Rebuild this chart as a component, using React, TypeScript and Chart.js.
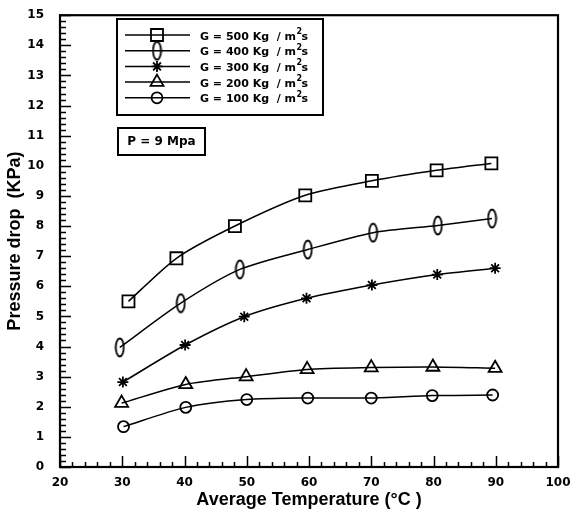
import { useEffect, useRef } from "react";
import { Chart, registerables, type ChartConfiguration, type Plugin } from "chart.js";
import { drawPoint } from "chart.js/helpers";

Chart.register(...registerables);

// Valores (temperatura media en °C, caída de presión en kPa)
const seriesLabels = ["500", "400", "300", "200", "100"];
const temps500 = [31, 38.7, 48.1, 59.4, 70.1, 80.5, 89.3];
const drop500 = [5.5, 6.93, 8.0, 9.02, 9.5, 9.85, 10.08];
const temps400 = [29.6, 39.4, 48.9, 59.8, 70.3, 80.7, 89.4];
const drop400 = [3.97, 5.44, 6.56, 7.22, 7.78, 8.02, 8.25];
const temps300 = [30.1, 40.1, 49.6, 59.6, 70.1, 80.6, 89.9];
const drop300 = [2.82, 4.05, 4.99, 5.6, 6.04, 6.39, 6.6];
const temps200 = [29.9, 40.2, 49.9, 59.7, 70.0, 79.9, 89.9];
const drop200 = [2.12, 2.74, 3.0, 3.24, 3.3, 3.32, 3.28];
const temps100 = [30.2, 40.2, 50.0, 59.8, 70.0, 79.8, 89.5];
const drop100 = [1.34, 1.98, 2.24, 2.29, 2.29, 2.37, 2.39];

const xTicks = [20, 30, 40, 50, 60, 70, 80, 90, 100];
const yTicks = [0, 1, 2, 3, 4, 5, 6, 7, 8, 9, 10, 11, 12, 13, 14, 15];

const FONT = "'Liberation Sans', Arial, sans-serif";
const WIDE = "'DejaVu Sans', sans-serif";

function makeEllipse(): HTMLCanvasElement {
  const c = document.createElement("canvas");
  c.width = 11;
  c.height = 21;
  const g = c.getContext("2d")!;
  g.strokeStyle = "#000";
  g.lineWidth = 1.8;
  g.beginPath();
  g.ellipse(5.5, 10.5, 4, 9, 0, 0, Math.PI * 2);
  g.stroke();
  return c;
}

export default function App() {
  const canvasRef = useRef<HTMLCanvasElement>(null);
  const chartRef = useRef<Chart | null>(null);

  useEffect(() => {
    document.body.style.margin = "0";
    if (!canvasRef.current) return;
    const ellipse = makeEllipse();

    const styles: any[] = [
      { pointStyle: "rect", radius: 8.5 },
      { pointStyle: ellipse, radius: 9 },
      { pointStyle: "star", radius: 5.5 },
      { pointStyle: "triangle", radius: 7.5 },
      { pointStyle: "circle", radius: 5.5 },
    ];
    const xs = [temps500, temps400, temps300, temps200, temps100];
    const ys = [drop500, drop400, drop300, drop200, drop100];

    // marco, ticks hacia adentro, leyenda y caja de presión
    const decor: Plugin<"line"> = {
      id: "decor",
      afterDraw(chart) {
        const { ctx, chartArea: a } = chart;
        const sx = chart.scales.x;
        const sy = chart.scales.y;
        ctx.save();
        ctx.strokeStyle = "#000";
        ctx.lineWidth = 1.5;
        ctx.beginPath();
        for (let v = 20; v <= 100.001; v += 2) {
          const px = Math.round(sx.getPixelForValue(v)) + 0.5;
          const len = Math.abs(v % 10) < 0.01 ? 11 : 5;
          ctx.moveTo(px, a.bottom);
          ctx.lineTo(px, a.bottom - len);
        }
        for (let v = 0; v <= 15.001; v += 0.2) {
          const py = Math.round(sy.getPixelForValue(v)) + 0.5;
          const major = Math.abs(v - Math.round(v)) < 0.01;
          ctx.moveTo(a.left, py);
          ctx.lineTo(a.left + (major ? 11 : 6), py);
        }
        ctx.stroke();
        ctx.lineWidth = 2.2;
        ctx.strokeRect(a.left, a.top, a.right - a.left, a.bottom - a.top);

        // leyenda
        const bx = 117, by = 19, bw = 206, bh = 96;
        ctx.fillStyle = "#fff";
        ctx.fillRect(bx, by, bw, bh);
        ctx.lineWidth = 2;
        ctx.strokeRect(bx, by, bw, bh);
        seriesLabels.forEach((g, i) => {
          const ry = 35 + i * 15.7;
          ctx.lineWidth = 1.5;
          ctx.beginPath();
          ctx.moveTo(125, ry);
          ctx.lineTo(190, ry);
          ctx.stroke();
          ctx.fillStyle = "rgba(0,0,0,0)";
          ctx.lineWidth = 1.8;
          drawPoint(ctx, { ...styles[i], rotation: 0, borderWidth: 1.8 }, 157, ry);
          ctx.fillStyle = "#000";
          ctx.font = `bold 11px ${WIDE}`;
          ctx.textBaseline = "alphabetic";
          ctx.textAlign = "left";
          const main = `G = ${g} Kg  / m`;
          ctx.fillText(main, 200, ry + 4.5);
          const w = ctx.measureText(main).width;
          ctx.font = `bold 8px ${WIDE}`;
          ctx.fillText("2", 200 + w + 0.5, ry - 1);
          ctx.font = `bold 11px ${WIDE}`;
          ctx.fillText("s", 200 + w + 5.5, ry + 4.5);
        });

        // caja P
        ctx.lineWidth = 2;
        ctx.strokeRect(118, 128, 87, 27);
        ctx.fillStyle = "#000";
        ctx.font = `bold 12px ${WIDE}`;
        ctx.textAlign = "center";
        ctx.textBaseline = "middle";
        ctx.fillText("P = 9 Mpa", 161.5, 142);
        ctx.restore();
      },
    };

    const cfg: ChartConfiguration<"line"> = {
      type: "line",
      data: {
        datasets: seriesLabels.map((g, i) => ({
          label: `G = ${g} Kg / m²s`,
          data: xs[i].map((x, j) => ({ x, y: ys[i][j] })),
          borderColor: "#000",
          borderWidth: 1.5,
          tension: 0.25,
          pointStyle: styles[i].pointStyle,
          pointRadius: styles[i].radius,
          pointBorderWidth: 1.8,
          pointBorderColor: "#000",
          pointBackgroundColor: "rgba(0,0,0,0)",
          fill: false,
        })),
      },
      options: {
        animation: false,
        responsive: true,
        maintainAspectRatio: false,
        layout: { padding: { top: 12, right: 18, left: 0, bottom: 0 } },
        scales: {
          x: {
            type: "linear",
            min: 20,
            max: 100,
            afterBuildTicks: (s) => {
              s.ticks = xTicks.map((v) => ({ value: v }));
            },
            afterFit: (s) => {
              s.height = 49;
            },
            ticks: {
              color: "#000",
              padding: 1,
              maxRotation: 0,
              autoSkip: false,
              font: { family: WIDE, size: 12, weight: "bold" },
            },
            grid: { display: false },
            border: { display: false },
            title: {
              display: true,
              text: "Average Temperature (°C )",
              color: "#000",
              padding: { top: 0, bottom: 5 },
              font: { family: FONT, size: 18, weight: "bold" },
            },
          },
          y: {
            type: "linear",
            min: 0,
            max: 15,
            afterBuildTicks: (s) => {
              s.ticks = yTicks.map((v) => ({ value: v }));
            },
            afterFit: (s) => {
              s.width = 60;
            },
            ticks: {
              color: "#000",
              padding: 8,
              autoSkip: false,
              font: { family: WIDE, size: 12, weight: "bold" },
            },
            grid: { display: false },
            border: { display: false },
            title: {
              display: true,
              text: "Pressure drop  (KPa)",
              color: "#000",
              padding: { top: 4, bottom: 0 },
              font: { family: FONT, size: 18, weight: "bold" },
            },
          },
        },
        plugins: {
          legend: { display: false },
          tooltip: { enabled: false },
        },
      },
      plugins: [decor],
    };
    chartRef.current = new Chart(canvasRef.current, cfg);
    return () => {
      chartRef.current?.destroy();
      chartRef.current = null;
    };
  }, []);

  return (
    <div style={{ position: "relative", width: 576, height: 516, background: "#fff" }}>
      <canvas ref={canvasRef} />
    </div>
  );
}
